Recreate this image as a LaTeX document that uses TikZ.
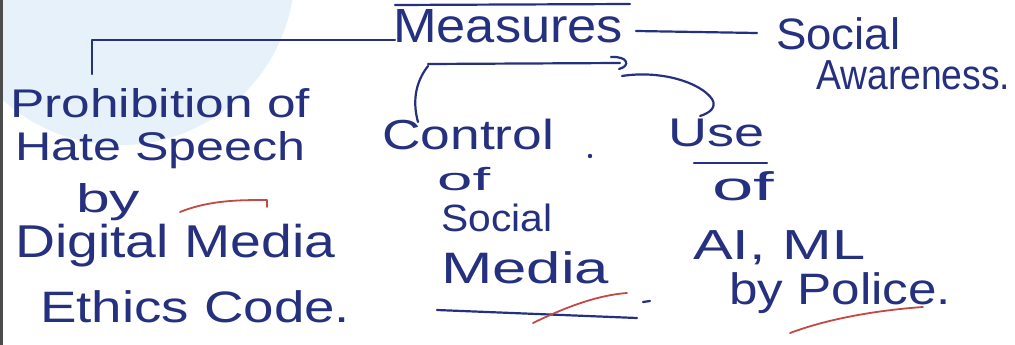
\documentclass[tikz,border=0pt]{standalone}
\usepackage{fontspec}
\setmainfont{Liberation Sans}
\usepackage{graphicx}
\definecolor{ink}{HTML}{25307F}
\definecolor{redink}{HTML}{C24A45}
\definecolor{blob}{HTML}{E6F1FA}
% width W (pt), font size S (pt), text
\newcommand{\hwtext}[3]{\fontsize{#2}{#2}\selectfont\resizebox{#1pt}{\height}{#3}}
\tikzset{
  hw/.style={anchor=north west, inner sep=0pt, text=ink},
  stroke/.style={draw=ink, line width=2.2pt, line cap=round, line join=round},
  redstroke/.style={draw=redink, line width=1.8pt, line cap=round, line join=round}
}
\begin{document}
\begin{tikzpicture}[x=1pt,y=-1pt]
\useasboundingbox (0,0) rectangle (1015,345);
\fill[white] (0,0) rectangle (1015,345);
\begin{scope}
  \clip (0,0) rectangle (1015,345);
  \fill[blob] (120,-30) circle (175);
\end{scope}
\fill[gray!60!black] (0,0) rectangle (3,345);

% texts
\node[hw] (meas) at (393,9) {\hwtext{230}{48}{Measures}};
\node[hw] (soc1) at (776,17) {\hwtext{124}{44}{Social}};
\node[hw] (soc2) at (816,60) {\hwtext{194}{42}{Awareness.}};
\node[hw] (p1) at (10,88) {\hwtext{300}{40}{Prohibition of}};
\node[hw] (p2) at (15,131) {\hwtext{290}{40}{Hate Speech}};
\node[hw] (p3) at (76,183) {\hwtext{64}{40}{by}};
\node[hw] (p4) at (15,224) {\hwtext{320}{46}{Digital Media}};
\node[hw] (p5) at (40,290) {\hwtext{310}{44}{Ethics Code.}};
\node[hw] (c1) at (382,119) {\hwtext{172}{42}{Control}};
\node[hw] (c2) at (437,167) {\hwtext{53}{32}{of}};
\node[hw] (c3) at (441,204) {\hwtext{111}{38}{Social}};
\node[hw] (c4) at (441,251) {\hwtext{168}{44}{Media}};
\node[hw] (u1) at (668,119) {\hwtext{96}{40}{Use}};
\node[hw] (u2) at (712,171) {\hwtext{62}{40}{of}};
\node[hw] (u3) at (693,230) {\hwtext{172}{42}{AI, ML}};
\node[hw] (u4) at (729,272) {\hwtext{222}{44}{by Police.}};
\fill[ink] (590,156) circle (2.2);

% connector ends
\coordinate (mL) at (395,40);
\coordinate (pTop) at (92,74);
\coordinate (cStart) at (428,66);
\coordinate (cEnd) at (418,122);
\coordinate (uStart) at (622,76);
\coordinate (uEnd) at (700,116);
\coordinate (sStart) at (636,31);
\coordinate (sEnd) at (757,33);

% over/underlines of Measures
\draw[stroke] (395,5) -- (630,4);
\draw[stroke] (428,64) -- (620,63);
\draw[stroke] (611,57) .. controls (628,56) and (631,66) .. (619,69);

% connectors
\draw[stroke] (mL) -| (pTop);
\draw[stroke] (cStart) .. controls (414,84) and (413,104) .. (cEnd);
\draw[stroke] (uStart) .. controls (660,70) and (700,82) .. (712,99)
  .. controls (717,107) and (710,113) .. (uEnd);
\draw[stroke] (sStart) -- (sEnd);

% underlines
\draw[stroke] (694,163) -- (767,163);
\draw[stroke] (437,310) -- (637,318);
\draw[stroke] (643,302) -- (650,301);

% red marks
\draw[redstroke] (180,212) .. controls (210,200) and (240,200) .. (267,200) -- (267,207);
\draw[redstroke] (533,323) .. controls (570,305) and (600,295) .. (627,293);
\draw[redstroke] (790,333) .. controls (830,318) and (880,310) .. (923,307);
\end{tikzpicture}
\end{document}
